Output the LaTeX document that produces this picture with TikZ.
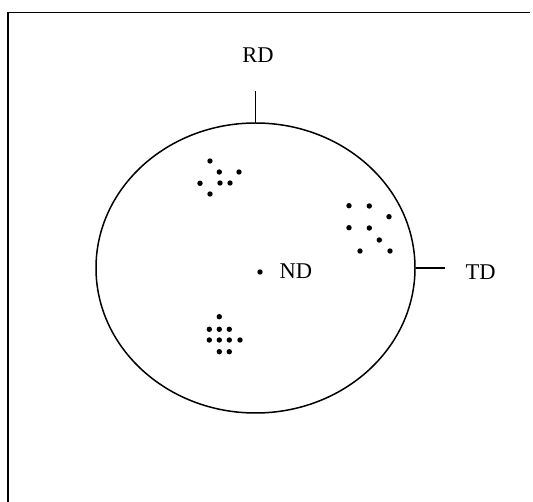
\documentclass[tikz,border=0pt]{standalone}
\usepackage{fontspec}
\setmainfont{Liberation Serif}
\usetikzlibrary{shapes.geometric}
\begin{document}
\begin{tikzpicture}[x=1pt,y=-1pt,
  lbl/.style={font=\fontsize{22.5}{22.5}\selectfont, inner sep=0pt},
  dot/.style={fill=black},
  thinline/.style={line width=1.5pt}]
\useasboundingbox (0,0) rectangle (533,502);
% frame
\draw[line width=1.6pt] (8,502) -- (8,12.5) -- (530,12.5);
% circle
\node[ellipse, draw, thinline, minimum width=319pt, minimum height=290pt, inner sep=0pt] (circ) at (255.5,268) {};
% RD
\coordinate (rdend) at (circ.north |- 0,91);
\draw[thinline] (circ.north) -- (rdend);
\node[lbl] (rd) at (258,55) {RD};
% TD
\coordinate (tdend) at (445,268);
\draw[thinline] (circ.east) -- (tdend);
\node[lbl, anchor=west] (td) at (465.5,272) {TD};
% ND
\fill[dot] (260,272) circle (2.7) coordinate (nd);
\node[lbl, anchor=west] (ndl) at (279.5,271) {ND};
% cluster 1
\foreach \p in {(210,161),(219.3,172),(239,172),(200,183.3),(220,183),(230,183),(210,194)}
  \fill[dot] \p circle (2.7);
% cluster 2
\foreach \p in {(349,205.7),(369.3,206),(389,216.7),(349,227.7),(369.3,228),(379.3,240),(360,251),(390,251)}
  \fill[dot] \p circle (2.7);
% cluster 3
\foreach \p in {(219.3,316.7),(209.3,329.3),(219.3,329.3),(229.3,329.3),(209.3,340),(219.3,340),(229.3,340),(240,340),(219.3,351.7),(229.3,351.7)}
  \fill[dot] \p circle (2.7);
\end{tikzpicture}
\end{document}
